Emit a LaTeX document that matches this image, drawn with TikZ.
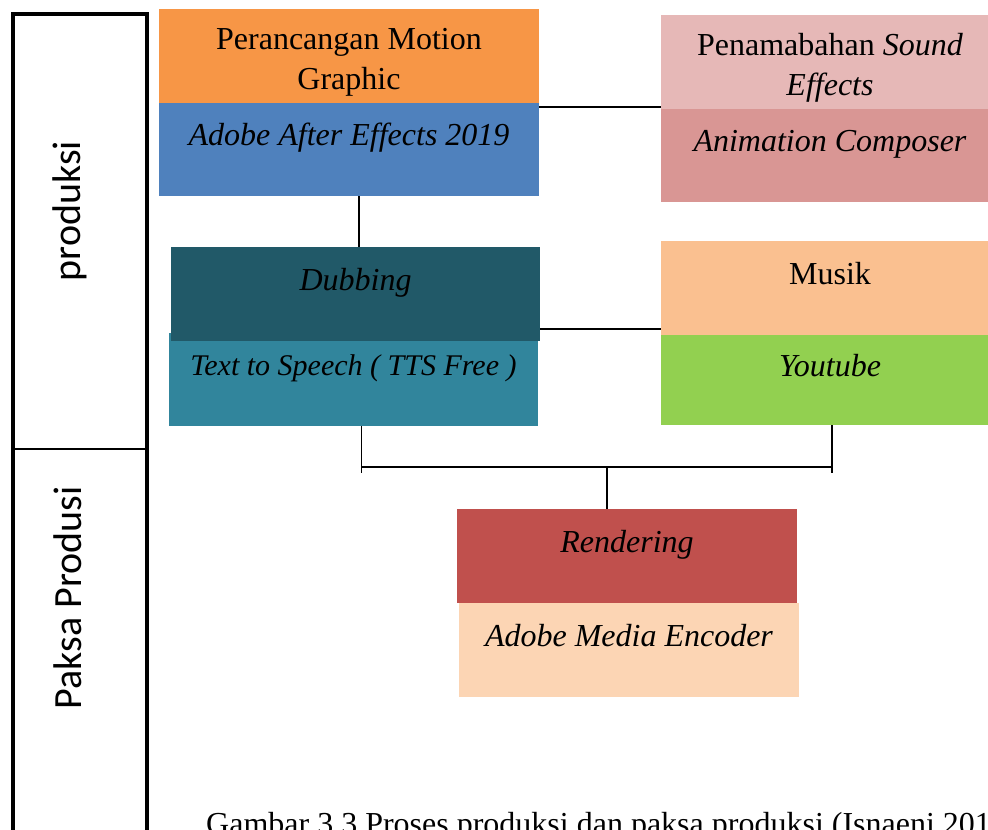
\documentclass[tikz,border=0pt]{standalone}
\usepackage{fontspec}
\setmainfont{Liberation Serif}
\newfontfamily\sidefont{Carlito}

\definecolor{cOrange}{HTML}{F79646}
\definecolor{cBlue}{HTML}{4F81BD}
\definecolor{cPink}{HTML}{E6B8B7}
\definecolor{cRose}{HTML}{D99694}
\definecolor{cDeep}{HTML}{215968}
\definecolor{cTeal}{HTML}{31859C}
\definecolor{cPeach}{HTML}{FAC090}
\definecolor{cGreen}{HTML}{92D050}
\definecolor{cRed}{HTML}{C0504D}
\definecolor{cCream}{HTML}{FCD5B4}

\tikzset{
  blk/.style={inner sep=0pt, font=\fontsize{32}{40}\selectfont},
  oneline/.style={text height=22pt, text depth=30pt},
  side/.style={rotate=90, font=\sidefont\fontsize{40}{48}\selectfont},
  wire/.style={line width=1.5pt}
}

\begin{document}
\begin{tikzpicture}[x=1pt,y=-1pt]

  \useasboundingbox (0,0) rectangle (988,830);
  \clip (0,0) rectangle (988,830);

  % kolom kiri
  \draw[line width=4pt] (13,14) rectangle (147,850);
  \draw[line width=1.2pt] (13,449) -- (147,449);
  \node[side] (prod)  at (70,211) {produksi};
  \node[side] (paksa) at (68,598) {Paksa Produsi};

  \begin{scope}[every node/.style={blk}]
    \node[fill=cOrange, minimum width=380pt, minimum height=94pt, align=center] (mg) at (349,56)
      {\rule{0pt}{34pt}Perancangan Motion\\Graphic};
    \node[fill=cBlue, oneline, minimum width=380pt, minimum height=93pt] (ae) at (349,149.5)
      {\textit{Adobe After Effects 2019}};

    \node[fill=cPink, minimum width=338pt, minimum height=94pt, align=center] (sfx) at (830,62)
      {\rule{0pt}{34pt}Penamabahan \textit{Sound}\\\textit{Effects}};
    \node[fill=cRose, oneline, minimum width=338pt, minimum height=93pt] (ac) at (830,155.5)
      {\textit{Animation Composer}};

    \node[fill=cTeal, oneline, minimum width=369pt, minimum height=93pt, font=\fontsize{30}{36}\selectfont] (tts) at (353.5,379.5)
      {\textit{Text to Speech ( TTS Free )}};
    \node[fill=cDeep, oneline, minimum width=369pt, minimum height=94pt] (dub) at (355.5,294)
      {\textit{Dubbing}};

    \node[fill=cPeach, oneline, minimum width=338pt, minimum height=94pt] (mus) at (830,288)
      {Musik};
    \node[fill=cGreen, oneline, minimum width=338pt, minimum height=90pt] (yt) at (830,380)
      {\textit{Youtube}};

    \node[fill=cRed, oneline, minimum width=340pt, minimum height=94pt] (ren) at (627,556)
      {\textit{Rendering}};
    \node[fill=cCream, oneline, minimum width=340pt, minimum height=94pt] (ame) at (629,650)
      {\textit{Adobe Media Encoder}};
  \end{scope}

  % penghubung
  \coordinate (bus) at (607,467);
  \draw[wire] ([yshift=-4pt]ae.north east) -- ([yshift=-4pt]ae.north east -| ac.west);
  \draw[wire] ([xshift=10pt]ae.south) -- ([xshift=10pt]ae.south |- dub.north);
  \draw[wire] ([yshift=12pt]dub.south east) -- ([yshift=12pt]dub.south east -| mus.west);
  \draw[wire] ([xshift=8pt]tts.south) -- ([xshift=8pt,yshift=-6pt]tts.south |- bus);
  \draw[wire] ([xshift=2pt]yt.south) -- ([xshift=2pt,yshift=-6pt]yt.south |- bus);
  \draw[wire] ([xshift=8pt]tts.south |- bus) -- ([xshift=2pt]yt.south |- bus);
  \draw[wire] (bus) -- (bus |- ren.north);

  \node[anchor=base west, font=\fontsize{32}{40}\selectfont, inner sep=0pt] (cap) at (206,834)
    {Gambar 3.3 Proses produksi dan paksa produksi (Isnaeni 201};

\end{tikzpicture}
\end{document}
